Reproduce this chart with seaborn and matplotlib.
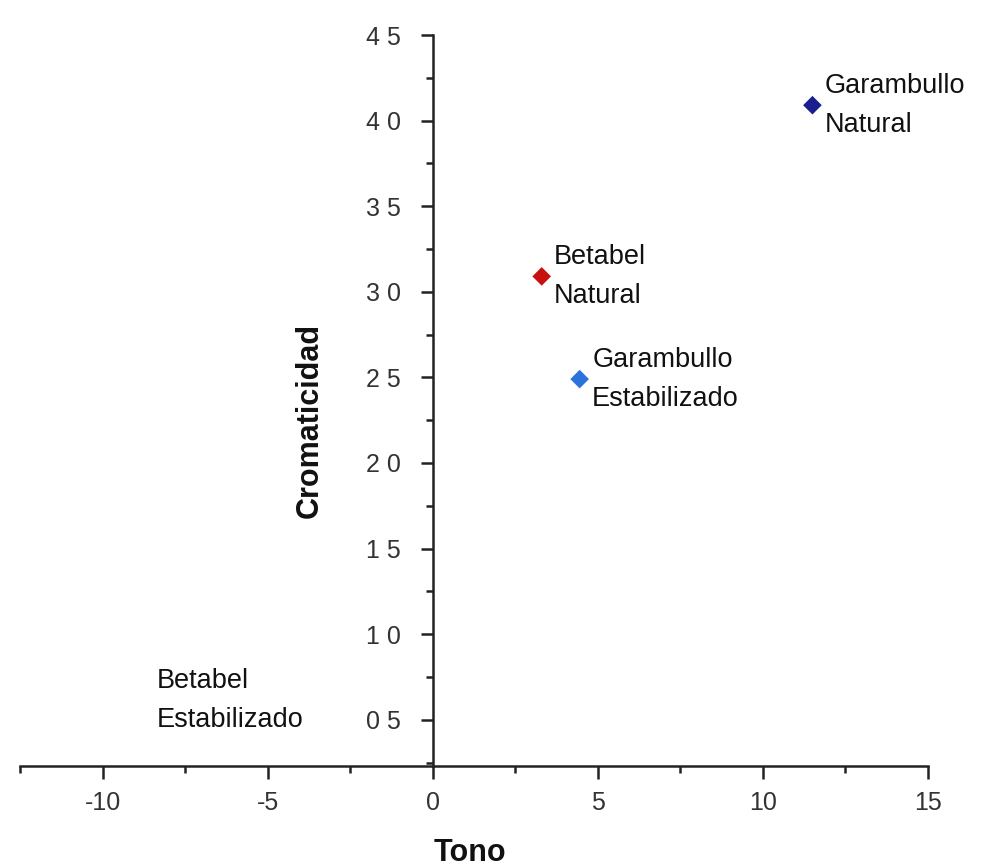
import matplotlib
matplotlib.use("Agg")
import matplotlib.pyplot as plt
import seaborn as sns
import pandas as pd
from matplotlib.ticker import MultipleLocator, FixedLocator, FixedFormatter

sns.set_theme(style="white")
plt.rcParams['font.family'] = ['Liberation Sans', 'DejaVu Sans']

# Data
samples = ["Garambullo\nNatural", "Betabel\nNatural", "Garambullo\nEstabilizado"]
tono = [11.5, 3.3, 4.45]
cromaticidad = [40.9, 30.9, 24.9]
colors = ["#1a1f8f", "#c81010", "#2a72dc"]

# Label only (marker not visible in the original)
extra_label = "Betabel\nEstabilizado"
extra_pos = (-8.35, 6.1)

x_ticks = [-10, -5, 0, 5, 10, 15]
x_ticklabels = ["-10", "-5", "0", "5", "10", "15"]
y_ticks = [5, 10, 15, 20, 25, 30, 35, 40, 45]
y_ticklabels = ["0 5", "1 0", "1 5", "2 0", "2 5", "3 0", "3 5", "4 0", "4 5"]

df = pd.DataFrame({"Tono": tono, "Cromaticidad": cromaticidad, "Muestra": samples})

fig = plt.figure(figsize=(10.08, 8.68), dpi=100)
ax = fig.add_axes([20/1008, 1-766/868, 908/1008, 731/868])

sns.scatterplot(data=df, x="Tono", y="Cromaticidad", hue="Muestra",
                palette=dict(zip(samples, colors)), marker="D", s=90,
                edgecolor="none", legend=False, ax=ax, zorder=3)

label_kw = dict(fontsize=19.5, linespacing=1.65, color="#111111")
for xv, yv, lab in zip(tono, cromaticidad, samples):
    ax.annotate(lab, (xv, yv), xytext=(9, 0), textcoords="offset points",
                ha="left", va="center", **label_kw)
ax.text(extra_pos[0], extra_pos[1], extra_label, ha="left", va="center", **label_kw)

ax.set_xlim(-12.5, 15)
ax.set_ylim(2.3, 45)

for s in ["top", "right"]:
    ax.spines[s].set_visible(False)
ax.spines["left"].set_position(("data", 0))
for s in ["left", "bottom"]:
    ax.spines[s].set_color("#222222")
    ax.spines[s].set_linewidth(1.8)

ax.xaxis.set_major_locator(FixedLocator(x_ticks))
ax.xaxis.set_major_formatter(FixedFormatter(x_ticklabels))
ax.xaxis.set_minor_locator(MultipleLocator(2.5))
ax.yaxis.set_major_locator(FixedLocator(y_ticks))
ax.yaxis.set_major_formatter(FixedFormatter(y_ticklabels))
ax.yaxis.set_minor_locator(MultipleLocator(2.5))

ax.tick_params(axis="both", which="major", direction="out", length=9, width=1.8,
               color="#222222", labelsize=18, labelcolor="#333333")
ax.tick_params(axis="both", which="minor", direction="out", length=5, width=1.8,
               color="#222222")
ax.tick_params(axis="x", pad=9)
ax.tick_params(axis="y", pad=14)
ax.tick_params(axis="x", bottom=True, which="both")
ax.tick_params(axis="y", left=True, which="both")

ax.set_xlabel("Tono", fontsize=22, fontweight="bold", color="#111111")
ax.set_ylabel("Cromaticidad", fontsize=22, fontweight="bold", color="#111111")
ax.xaxis.set_label_coords((470-20)/908, (766-838)/731)
ax.yaxis.set_label_coords((325-20)/908, (766-420)/731)

fig.savefig("out.png", dpi=100)
